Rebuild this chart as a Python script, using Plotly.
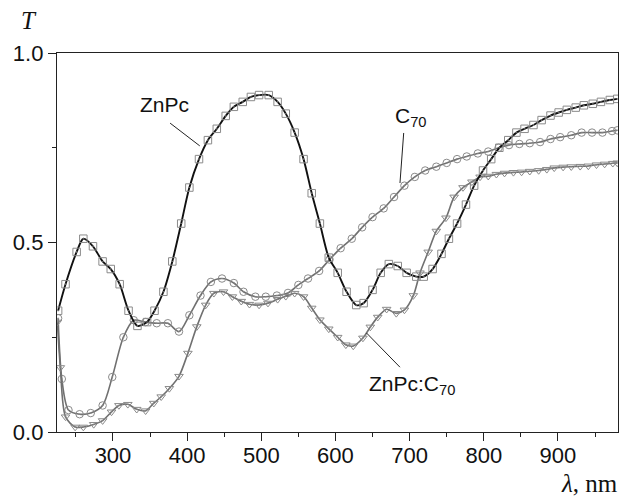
import plotly.graph_objects as go

# ---- data ----
znpc_wl = [226, 236, 251, 260, 273, 286, 297, 309, 321, 333, 346, 356, 368, 380, 392,
           403, 416, 428, 440, 452, 463, 475, 486, 497, 510, 522, 533, 545, 557, 568,
           579, 591, 603, 615, 628, 638, 650, 661, 672, 684, 696, 709, 719, 731, 743,
           753, 764, 776, 787, 799, 810, 821, 833, 844, 855, 867, 878, 890, 901, 912,
           924, 935, 947, 958, 970, 980]
znpc_t = [0.32, 0.39, 0.475, 0.51, 0.49, 0.45, 0.43, 0.39, 0.32, 0.28, 0.29, 0.32, 0.37, 0.45, 0.55,
          0.645, 0.72, 0.77, 0.80, 0.834, 0.858, 0.871, 0.884, 0.889, 0.889, 0.871, 0.84, 0.79, 0.72, 0.63,
          0.55, 0.46, 0.42, 0.37, 0.335, 0.34, 0.375, 0.42, 0.443, 0.438, 0.42, 0.41, 0.41, 0.43, 0.47,
          0.51, 0.55, 0.60, 0.65, 0.69, 0.72, 0.75, 0.77, 0.79, 0.80, 0.81, 0.823, 0.835, 0.843, 0.85,
          0.856, 0.862, 0.866, 0.871, 0.876, 0.879]

c70_wl = [226, 231, 240, 255, 270, 286, 299, 314, 328, 344, 359, 374, 389, 403, 418,
          432, 447, 463, 476, 492, 506, 521, 536, 550, 563, 578, 592, 607, 622, 636,
          650, 665, 679, 693, 707, 721, 736, 750, 764, 777, 792, 806, 820, 834, 848,
          862, 876, 890, 903, 918, 932, 946, 960, 973, 980]
c70_t = [0.30, 0.14, 0.058, 0.047, 0.05, 0.07, 0.145, 0.25, 0.295, 0.29, 0.287, 0.287, 0.265, 0.308, 0.36,
         0.396, 0.405, 0.393, 0.37, 0.357, 0.357, 0.36, 0.367, 0.388, 0.405, 0.425, 0.455, 0.485, 0.51, 0.54,
         0.567, 0.59, 0.62, 0.65, 0.673, 0.69, 0.70, 0.71, 0.72, 0.727, 0.735, 0.74, 0.75, 0.757, 0.76,
         0.762, 0.765, 0.773, 0.778, 0.783, 0.79, 0.79, 0.79, 0.794, 0.796]

mix_wl = [225, 229, 236, 249, 260, 274, 286, 298, 308, 320, 332, 344, 355, 365, 376,
          389, 401, 413, 425, 436, 449, 461, 473, 484, 497, 509, 522, 533, 545, 557,
          568, 579, 591, 603, 614, 624, 637, 647, 657, 669, 682, 693, 705, 714, 725,
          736, 749, 760, 772, 784, 795, 806, 817, 828, 840, 851, 862, 874, 885, 895,
          907, 918, 930, 941, 952, 963, 974, 980]
mix_t = [0.29, 0.17, 0.04, 0.013, 0.013, 0.02, 0.03, 0.053, 0.07, 0.073, 0.06, 0.056, 0.076, 0.093, 0.115,
         0.147, 0.208, 0.278, 0.335, 0.366, 0.37, 0.357, 0.345, 0.337, 0.335, 0.34, 0.35, 0.358, 0.366, 0.357,
         0.327, 0.296, 0.272, 0.25, 0.23, 0.227, 0.248, 0.277, 0.303, 0.324, 0.313, 0.322, 0.36, 0.42, 0.475,
         0.53, 0.565, 0.62, 0.645, 0.66, 0.673, 0.675, 0.68, 0.683, 0.685, 0.686, 0.688, 0.69, 0.693, 0.697,
         0.699, 0.70, 0.701, 0.702, 0.705, 0.707, 0.709, 0.71]

x_ticks = [300, 400, 500, 600, 700, 800, 900]
y_ticks = [0.0, 0.5, 1.0]
y_tick_text = ["0.0", "0.5", "1.0"]

MARK = "#8a8a8a"
GRAY = "#707070"

fig = go.Figure()

def add_series(wl, t, line_color, line_width, symbol):
    fig.add_trace(go.Scatter(
        x=wl, y=t, mode="lines",
        line=dict(color=line_color, width=line_width, shape="spline", smoothing=0.8),
        hoverinfo="skip", showlegend=False))
    fig.add_trace(go.Scatter(
        x=wl, y=t, mode="markers",
        marker=dict(symbol=symbol, size=7.5, color=MARK, line=dict(color=MARK, width=1)),
        showlegend=False))

add_series(c70_wl, c70_t, GRAY, 1.6, "circle-open-dot")
add_series(mix_wl, mix_t, GRAY, 1.6, "triangle-down-open-dot")
add_series(znpc_wl, znpc_t, "#111111", 1.9, "square-open-dot")

LBL = dict(family="Liberation Sans, Arial, sans-serif", size=21, color="#111111")
SERIF = dict(family="Liberation Serif, Times New Roman, serif", size=25, color="#111111")

fig.add_annotation(x=369, y=0.863, text="ZnPc", showarrow=False, font=LBL,
                   xref="x", yref="y")
fig.add_annotation(x=677, y=0.83, text="C<sub>70</sub>", showarrow=False, font=LBL,
                   xref="x", yref="y", xanchor="left")
fig.add_annotation(x=643, y=0.125, text="ZnPc:C<sub>70</sub>", showarrow=False, font=LBL,
                   xref="x", yref="y", xanchor="left")

# leader lines
fig.add_shape(type="line", x0=377, y0=0.815, x1=417, y1=0.755,
              line=dict(color="#222222", width=1), xref="x", yref="y")
fig.add_shape(type="line", x0=692, y0=0.789, x1=687, y1=0.657,
              line=dict(color="#222222", width=1), xref="x", yref="y")
fig.add_shape(type="line", x0=642, y0=0.261, x1=687, y1=0.171,
              line=dict(color="#222222", width=1), xref="x", yref="y")

fig.add_annotation(x=-0.05, y=1.087, xref="paper", yref="paper", text="<i>T</i>",
                   showarrow=False, font=SERIF, xanchor="center", yanchor="middle")
fig.add_annotation(x=0.95, y=-0.135, xref="paper", yref="paper", text="<i>λ</i>, nm",
                   showarrow=False, font=SERIF, xanchor="center", yanchor="middle")

axis_common = dict(showline=True, linecolor="#222222", linewidth=1.4, mirror=True,
                   ticks="outside", ticklen=8, tickwidth=1.3, tickcolor="#222222",
                   showgrid=False, zeroline=False,
                   tickfont=dict(family="Liberation Sans, Arial, sans-serif", size=22, color="#111111"))

fig.update_xaxes(range=[224.5, 981], tickvals=x_ticks, ticklabelstandoff=-5,
                 minor=dict(ticks="outside", ticklen=4, tickwidth=1.2, tickcolor="#222222", dtick=50, tick0=0),
                 **axis_common)
fig.update_yaxes(range=[0, 1], tickvals=y_ticks, ticktext=y_tick_text,
                 minor=dict(ticks="outside", ticklen=4, tickwidth=1.2, tickcolor="#222222", dtick=0.25, tick0=0),
                 **axis_common)

fig.update_layout(width=635, height=501, margin=dict(l=57, r=17, t=53, b=69),
                  plot_bgcolor="white", paper_bgcolor="white", showlegend=False)

fig.write_html("out.html", config={"displayModeBar": False},
               post_script="document.body.style.margin='0';document.body.style.padding='0';")
